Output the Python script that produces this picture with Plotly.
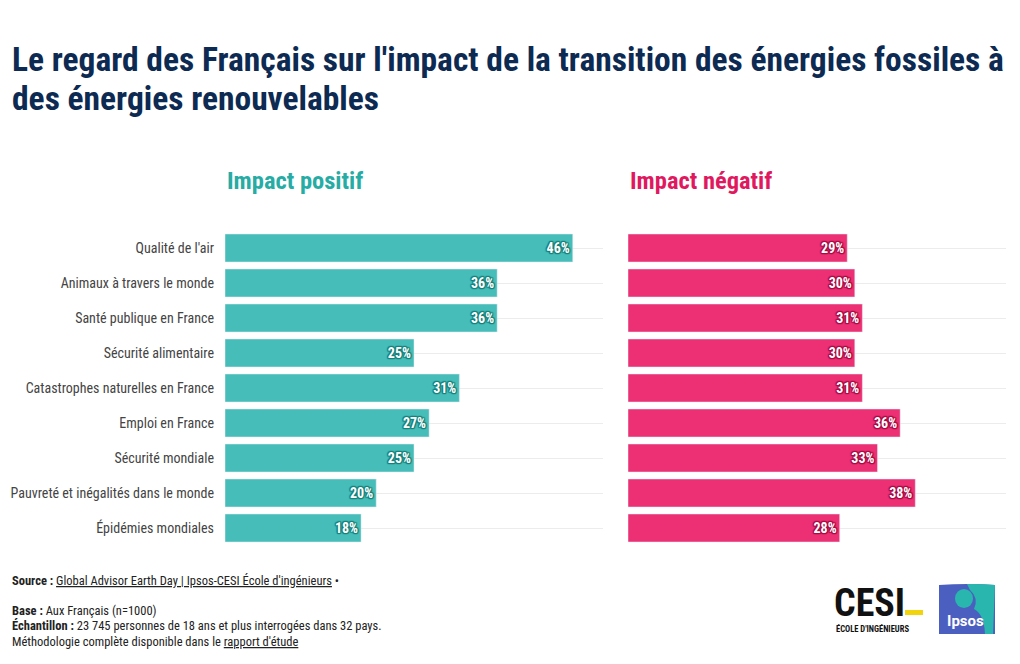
import plotly.graph_objects as go

categories = ["Qualité de l'air", "Animaux à travers le monde", "Santé publique en France",
              "Sécurité alimentaire", "Catastrophes naturelles en France", "Emploi en France",
              "Sécurité mondiale", "Pauvreté et inégalités dans le monde", "Épidémies mondiales"]
positif = [46, 36, 36, 25, 31, 27, 25, 20, 18]
negatif = [29, 30, 31, 30, 31, 36, 33, 38, 28]

FONT = "Roboto Condensed, Liberation Sans Narrow, DejaVu Sans Condensed, Roboto, sans-serif"
W, H = 1020, 664
TEAL = "#47bdb9"
PINK = "#ec3073"

def px(x):
    return x / W

def py(y):
    return 1 - y / H

def outline(c):
    offs = [(1, 1), (-1, -1), (1, -1), (-1, 1), (0, 1), (1, 0), (0, -1), (-1, 0)]
    return ", ".join(f"{a}px {b}px 1px {c}" for a, b in offs)

fig = go.Figure()
fig.add_trace(go.Bar(
    x=positif, y=categories, orientation="h", marker_color=TEAL, width=0.8,
    text=[f"{v}%" for v in positif], textposition="inside", insidetextanchor="end",
    textfont=dict(family=FONT, size=14, color="white", weight="bold", shadow=outline("#17807b")),
    insidetextfont=dict(family=FONT, size=14, color="white", weight="bold", shadow=outline("#17807b")),
    xaxis="x", yaxis="y", showlegend=False, hoverinfo="skip", cliponaxis=False))
fig.add_trace(go.Bar(
    x=negatif, y=categories, orientation="h", marker_color=PINK, width=0.8,
    text=[f"{v}%" for v in negatif], textposition="inside", insidetextanchor="end",
    textfont=dict(family=FONT, size=14, color="white", weight="bold", shadow=outline("#a70c44")),
    insidetextfont=dict(family=FONT, size=14, color="white", weight="bold", shadow=outline("#a70c44")),
    xaxis="x2", yaxis="y2", showlegend=False, hoverinfo="skip", cliponaxis=False))

ydom = [py(545.5), py(230.5)]
yax = dict(type="category", categoryorder="array", categoryarray=categories, autorange="reversed",
           showgrid=True, gridcolor="#ececec", gridwidth=1, zeroline=False, showline=False, ticks="",
           domain=ydom)
fig.update_layout(
    width=W, height=H, margin=dict(l=0, r=0, t=0, b=0),
    paper_bgcolor="white", plot_bgcolor="white", bargap=0.2,
    font=dict(family=FONT, color="#444444"),
    uniformtext=dict(minsize=14, mode="show"),
    xaxis=dict(domain=[px(225), px(603)], range=[0, 50], visible=False),
    xaxis2=dict(domain=[px(628), px(1006)], range=[0, 50], visible=False),
    yaxis=dict(**yax, anchor="x", tickfont=dict(size=14, color="#444444"), ticklabelstandoff=10),
    yaxis2=dict(**yax, anchor="x2", showticklabels=False),
)

title_lines = ["Le regard des Français sur l'impact de la transition des énergies fossiles à",
               "des énergies renouvelables"]
footer_lines = ["<b>Base :</b> Aux Français (n=1000)",
                "<b>Échantillon :</b> 23 745 personnes de 18 ans et plus interrogées dans 32 pays.",
                "Méthodologie complète disponible dans le <span style='text-decoration:underline'>rapport d'étude</span>"]

ann = []
for i, t in enumerate(title_lines):
    ann.append(dict(text=t, x=px(10), y=py(59 + 40 * i), xanchor="left", yanchor="middle",
                    font=dict(family=FONT, size=33.5, color="#0d2a52", weight="bold")))
ann.append(dict(text="Impact positif", x=px(225), y=py(180), xanchor="left", yanchor="middle",
                font=dict(family=FONT, size=24.5, color="#26aca4", weight="bold")))
ann.append(dict(text="Impact négatif", x=px(628), y=py(180), xanchor="left", yanchor="middle",
                font=dict(family=FONT, size=24.5, color="#e0195f", weight="bold")))
U = "<span style='text-decoration:underline'>{}</span>"
ann.append(dict(text="<b>Source :</b> " + U.format("Global Advisor Earth Day | Ipsos-CESI École d'ingénieurs") + " •",
                x=px(10), y=py(580), xanchor="left", yanchor="middle",
                font=dict(family=FONT, size=12.5, color="#222222")))
for i, t in enumerate(footer_lines):
    ann.append(dict(text=t, x=px(10), y=py(610 + 15.5 * i), xanchor="left", yanchor="middle",
                    font=dict(family=FONT, size=12.5, color="#222222")))
# CESI logo
ann.append(dict(text="CESI", x=px(832), y=py(603), xanchor="left", yanchor="middle",
                font=dict(family=FONT, size=38, color="#111111", weight="bold")))
ann.append(dict(text="ÉCOLE D'INGÉNIEURS", x=px(834), y=py(628), xanchor="left", yanchor="middle",
                font=dict(family=FONT, size=8.5, color="#111111", weight="bold")))
ann.append(dict(text="Ipsos", x=px(965), y=py(621), xanchor="center", yanchor="middle",
                font=dict(family="Roboto, sans-serif", size=15, color="white", weight="bold")))

shapes = [
    dict(type="rect", xref="paper", yref="paper", x0=px(905), x1=px(923), y0=py(615), y1=py(610),
         fillcolor="#f2d40c", line=dict(width=0)),
    dict(type="path", xref="paper", yref="paper",
         path=f"M {px(939)} {py(585)} Q {px(967)} {py(583)} {px(995)} {py(585)} L {px(995)} {py(634)} "
              f"L {px(939)} {py(634)} Z",
         fillcolor="#4b5fc0", line=dict(width=0)),
    dict(type="path", xref="paper", yref="paper",
         path=f"M {px(967)} {py(584)} Q {px(981)} {py(583.5)} {px(995)} {py(585)} L {px(993)} {py(634)} "
              f"L {px(985)} {py(634)} Q {px(984)} {py(614)} {px(974)} {py(609)} "
              f"Q {px(979)} {py(598)} {px(970)} {py(590)} Z",
         fillcolor="#28b6ae", line=dict(width=0)),
    dict(type="circle", xref="paper", yref="paper", x0=px(955), x1=px(973), y0=py(608), y1=py(589),
         fillcolor="#28b6ae", line=dict(width=0)),
]
fig.update_layout(annotations=[dict(a, xref="paper", yref="paper", showarrow=False) for a in ann], shapes=shapes)

fig.write_html("out.html")
